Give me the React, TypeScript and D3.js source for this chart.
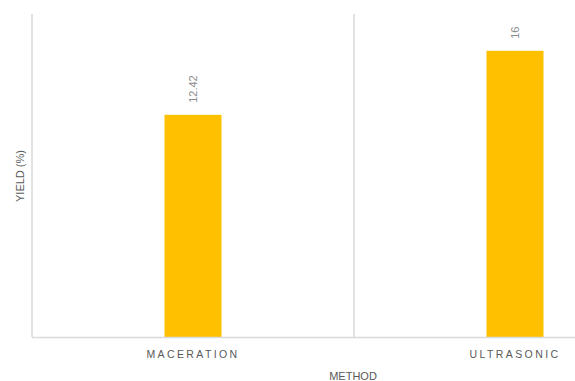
import React from "react";
import * as d3 from "d3";

const categories = ["MACERATION", "ULTRASONIC"];
const values = [12.42, 16];
const valueLabels = ["12.42", "16"];
const yMax = 18;

export default function App() {
  const W = 575, H = 381;
  const left = 32, bottom = 337, top = 15;
  const x = d3.scaleBand<string>().domain(categories).range([left, left + 644]).paddingInner(0).paddingOuter(0);
  const y = d3.scaleLinear().domain([0, yMax]).range([bottom, top]);
  const barW = 57;
  const font = "'Liberation Sans', Arial, sans-serif";
  return (
    <svg width={W} height={H} style={{ position: "absolute", left: 0, top: 0, background: "#fff" }}>
      <line x1={left} x2={left} y1={14} y2={bottom} stroke="#d9d9d9" strokeWidth={1.5} />
      {categories.slice(1).map((c) => (
        <line key={c} x1={x(c)!} x2={x(c)!} y1={14} y2={bottom} stroke="#d9d9d9" strokeWidth={1.5} />
      ))}
      {categories.map((c, i) => {
        const cx = x(c)! + x.bandwidth() / 2;
        return (
          <g key={c}>
            <rect x={cx - barW / 2} y={y(values[i])} width={barW} height={bottom - y(values[i])} fill="#ffc000" />
            <text
              transform={`translate(${cx + 4},${y(values[i]) - 12}) rotate(-90)`}
              fontFamily={font}
              fontSize={11}
              fill="#8c8c8c"
            >
              {valueLabels[i]}
            </text>
            <text x={cx} y={358} textAnchor="middle" fontFamily={font} fontSize={10.5} letterSpacing={2.4} fill="#595959">
              {c}
            </text>
          </g>
        );
      })}
      <line x1={left} x2={W} y1={bottom + 0.5} y2={bottom + 0.5} stroke="#d9d9d9" strokeWidth={1.5} />
      <text x={353} y={380} textAnchor="middle" fontFamily={font} fontSize={11} fill="#595959">METHOD</text>
      <text transform={`translate(24,176) rotate(-90)`} textAnchor="middle" fontFamily={font} fontSize={11} fill="#595959">YIELD (%)</text>
    </svg>
  );
}
